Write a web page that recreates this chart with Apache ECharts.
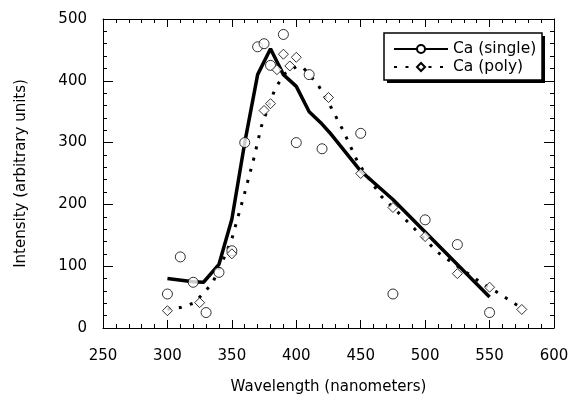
<!DOCTYPE html>
<html>
<head>
<meta charset="utf-8">
<script src="https://cdn.jsdelivr.net/npm/echarts@6/dist/echarts.min.js"></script>
<style>
  html, body { margin: 0; padding: 0; background: #fff; }
  #chart { width: 572px; height: 400px; }
</style>
</head>
<body>
<div id="chart"></div>
<script>
// smoothed curves [wavelength, intensity]
var singleLine = [[300, 80], [320, 75], [328, 74], [340, 103], [350, 176], [360, 300], [370, 410],
    [380, 452], [390, 410], [400, 391], [410, 350], [420, 330], [426, 316], [450, 254],
    [475, 208], [550, 50]];
var polyLine = [[300, 30], [310, 33], [320, 40], [327, 54], [335, 73], [343, 109], [350, 144],
    [360, 219], [367, 274], [373, 327], [383, 384], [390, 410], [400, 423], [405, 422],
    [417, 393], [427, 357], [436, 321], [448, 267], [466, 213], [484, 177], [510, 122],
    [545, 71], [555, 59], [575, 32]];
// measured points
var singlePoints = [[300, 55], [310, 115], [320, 74], [330, 25], [340, 90], [350, 125], [360, 300],
    [370, 455], [375, 460], [380, 425], [390, 475], [400, 300], [410, 410], [420, 290],
    [450, 315], [475, 55], [500, 175], [525, 135], [550, 25]];
var polyPoints = [[300, 28], [325, 41], [350, 120], [375, 352], [380, 363], [385, 418], [390, 443],
    [395, 424], [400, 438], [425, 373], [450, 250], [475, 195], [500, 148], [525, 88],
    [550, 66], [575, 30]];
var seriesNames = ['Ca (single)', 'Ca (poly)'];
var xTitle = 'Wavelength (nanometers)';
var yTitle = 'Intensity (arbitrary units)';

var FONT = 'DejaVu Sans';

// axis used for the frame: ticks inside, labels only on main axes
function frameAxis(pos, isX) {
    return {
        type: 'value',
        position: pos,
        min: isX ? 250 : 0,
        max: isX ? 600 : 500,
        interval: isX ? 50 : 100,
        axisLine: { show: true, onZero: false, lineStyle: { color: '#000', width: 1 } },
        axisTick: { show: true, inside: true, length: isX ? 8 : 10, lineStyle: { color: '#000' } },
        minorTick: { show: true, splitNumber: 5, length: 4, lineStyle: { color: '#000' } },
        axisLabel: { show: false },
        splitLine: { show: false }
    };
}

var chartDom = echarts.init(document.getElementById('chart'));

var xMain = frameAxis('bottom', true);
xMain.axisLabel = { show: true, color: '#000', fontFamily: FONT, fontSize: 15, margin: 21 };
xMain.name = xTitle;
xMain.nameLocation = 'middle';
xMain.nameGap = 52;
xMain.nameTextStyle = { color: '#000', fontFamily: FONT, fontSize: 15 };

var yMain = frameAxis('left', false);
yMain.axisLabel = { show: true, color: '#000', fontFamily: FONT, fontSize: 15, margin: 16 };
yMain.name = yTitle;
yMain.nameLocation = 'middle';
yMain.nameGap = 74;
yMain.nameTextStyle = { color: '#000', fontFamily: FONT, fontSize: 15 };

var option = {
    animation: false,
    backgroundColor: '#fff',
    grid: { left: 103, right: 18, top: 19, bottom: 71, containLabel: false },
    // legend frame with a hard drop shadow
    graphic: [
        {
            type: 'rect',
            z: 10,
            shape: { x: 387, y: 36, width: 158, height: 47 },
            style: { fill: '#000' }
        },
        {
            type: 'rect',
            z: 11,
            shape: { x: 384, y: 33, width: 158, height: 47 },
            style: { fill: '#fff', stroke: '#000', lineWidth: 1.5 }
        }
    ],
    legend: {
        data: seriesNames,
        orient: 'vertical',
        left: 393,
        top: 41,
        padding: 0,
        itemWidth: 54,
        itemHeight: 10,
        itemGap: 2,
        z: 12,
        textStyle: { color: '#000', fontFamily: FONT, fontSize: 15.5 }
    },
    xAxis: [xMain, frameAxis('top', true)],
    yAxis: [yMain, frameAxis('right', false)],
    series: [
        {
            name: seriesNames[0],
            type: 'line',
            data: singleLine,
            symbol: 'emptyCircle',
            symbolSize: 9,
            showSymbol: false,
            color: '#000',
            lineStyle: { color: '#000', width: 3.5 },
            z: 2
        },
        {
            name: seriesNames[1],
            type: 'line',
            data: polyLine,
            symbol: 'emptyDiamond',
            symbolSize: 9,
            showSymbol: false,
            color: '#000',
            lineStyle: { color: '#000', width: 3, type: [3, 8.5] },
            z: 2
        },
        {
            name: 'single points',
            type: 'scatter',
            data: singlePoints,
            symbol: 'circle',
            symbolSize: 10,
            itemStyle: { color: '#fff', borderColor: '#000', borderWidth: 1 },
            z: 5
        },
        {
            name: 'poly points',
            type: 'scatter',
            data: polyPoints,
            symbol: 'diamond',
            symbolSize: 10,
            itemStyle: { color: '#fff', borderColor: '#000', borderWidth: 1 },
            z: 5
        }
    ]
};

chartDom.setOption(option, true);
window.onresize = function () {
    chartDom.resize();
};
</script>
</body>
</html>
